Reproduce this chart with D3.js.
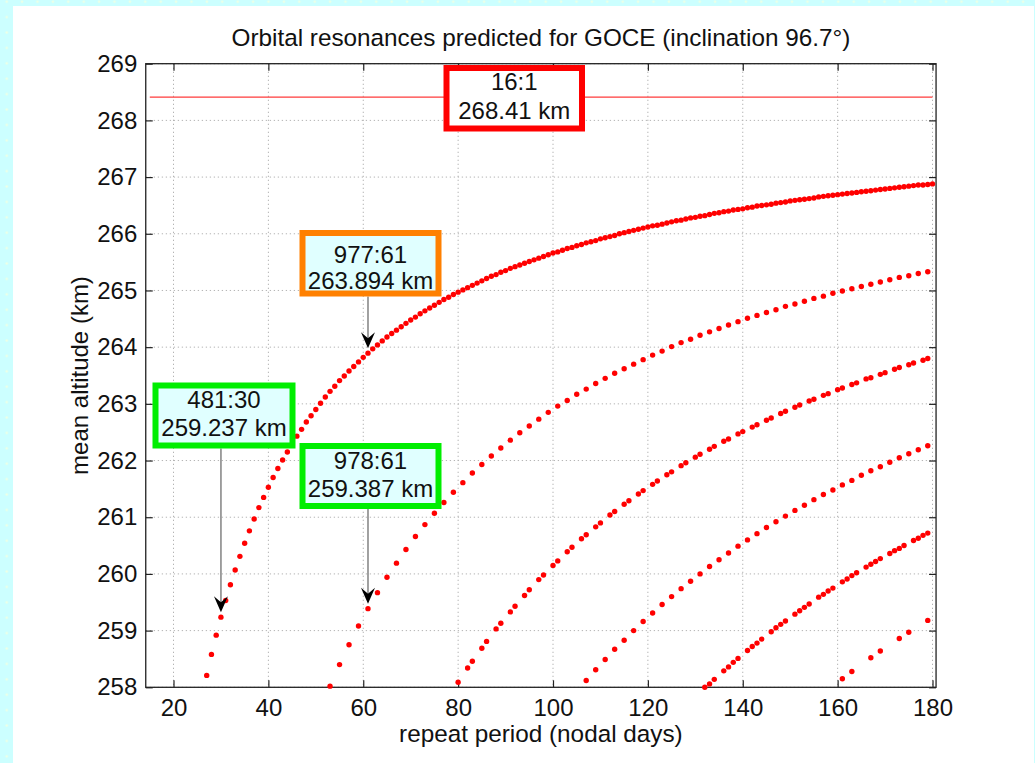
<!DOCTYPE html>
<html>
<head>
<meta charset="utf-8">
<script src="https://cdn.jsdelivr.net/npm/d3@7"></script>
<style>
  html, body { margin: 0; padding: 0; background: #ccffff; }
  svg { display: block; font-family: "Liberation Sans", Arial, Helvetica, sans-serif; }
</style>
</head>
<body>
<svg id="chart" width="1035" height="763"></svg>
<script>
// Resonant repeat orbits N:D (N revolutions in D nodal days), grouped by N - 16*D.
// Each entry: [repeat period in nodal days, mean altitude in km]
const resonanceK1 = [
  [27,258.21],[28,258.58],[29,258.92],[30,259.237],[31,259.53],[32,259.81],[33,260.07],[34,260.31],
  [35,260.54],[36,260.76],[37,260.97],[38,261.17],[39,261.35],[40,261.53],[41,261.70],[42,261.86],
  [43,262.01],[44,262.15],[45,262.29],[46,262.43],[47,262.55],[48,262.68],[49,262.79],[50,262.90],
  [51,263.01],[52,263.12],[53,263.22],[54,263.31],[55,263.41],[56,263.49],[57,263.58],[58,263.66],
  [59,263.74],[60,263.82],[61,263.894],[62,263.97],[63,264.04],[64,264.11],[65,264.18],[66,264.24],
  [67,264.30],[68,264.36],[69,264.42],[70,264.48],[71,264.53],[72,264.59],[73,264.64],[74,264.69],
  [75,264.74],[76,264.79],[77,264.84],[78,264.88],[79,264.93],[80,264.97],[81,265.01],[82,265.05],
  [83,265.09],[84,265.13],[85,265.17],[86,265.21],[87,265.25],[88,265.28],[89,265.32],[90,265.35],
  [91,265.39],[92,265.42],[93,265.45],[94,265.48],[95,265.51],[96,265.54],[97,265.57],[98,265.60],
  [99,265.63],[100,265.66],[101,265.68],[102,265.71],[103,265.74],[104,265.76],[105,265.79],[106,265.81],
  [107,265.84],[108,265.86],[109,265.88],[110,265.91],[111,265.93],[112,265.95],[113,265.97],[114,266.00],
  [115,266.02],[116,266.04],[117,266.06],[118,266.08],[119,266.10],[120,266.12],[121,266.14],[122,266.15],
  [123,266.17],[124,266.19],[125,266.21],[126,266.23],[127,266.24],[128,266.26],[129,266.28],[130,266.29],
  [131,266.31],[132,266.32],[133,266.34],[134,266.36],[135,266.37],[136,266.39],[137,266.40],[138,266.42],
  [139,266.43],[140,266.44],[141,266.46],[142,266.47],[143,266.49],[144,266.50],[145,266.51],[146,266.52],
  [147,266.54],[148,266.55],[149,266.56],[150,266.58],[151,266.59],[152,266.60],[153,266.61],[154,266.62],
  [155,266.63],[156,266.65],[157,266.66],[158,266.67],[159,266.68],[160,266.69],[161,266.70],[162,266.71],
  [163,266.72],[164,266.73],[165,266.74],[166,266.75],[167,266.76],[168,266.77],[169,266.78],[170,266.79],
  [171,266.80],[172,266.81],[173,266.82],[174,266.83],[175,266.84],[176,266.85],[177,266.86],[178,266.86],
  [179,266.87],[180,266.88]
];
const resonanceK2 = [
  [53,258.02],[55,258.40],[57,258.75],[59,259.08],[61,259.387],[63,259.67],[65,259.94],[67,260.19],
  [69,260.43],[71,260.66],[73,260.87],[75,261.07],[77,261.26],[79,261.44],[81,261.61],[83,261.78],
  [85,261.93],[87,262.08],[89,262.22],[91,262.36],[93,262.49],[95,262.61],[97,262.73],[99,262.85],
  [101,262.96],[103,263.06],[105,263.17],[107,263.26],[109,263.36],[111,263.45],[113,263.54],[115,263.62],
  [117,263.70],[119,263.78],[121,263.86],[123,263.93],[125,264.01],[127,264.08],[129,264.14],[131,264.21],
  [133,264.27],[135,264.33],[137,264.39],[139,264.45],[141,264.51],[143,264.56],[145,264.61],[147,264.66],
  [149,264.72],[151,264.76],[153,264.81],[155,264.86],[157,264.90],[159,264.95],[161,264.99],[163,265.03],
  [165,265.07],[167,265.11],[169,265.15],[171,265.19],[173,265.23],[175,265.26],[177,265.30],[179,265.33]
];
const resonanceK3 = [
  [80,258.09],[82,258.34],[83,258.46],[85,258.69],[86,258.81],[88,259.03],[89,259.13],[91,259.33],
  [92,259.43],[94,259.62],[95,259.72],[97,259.90],[98,259.98],[100,260.15],[101,260.23],[103,260.39],
  [104,260.47],[106,260.62],[107,260.69],[109,260.83],[110,260.90],[112,261.04],[113,261.10],[115,261.23],
  [116,261.29],[118,261.41],[119,261.47],[121,261.58],[122,261.64],[124,261.75],[125,261.80],[127,261.91],
  [128,261.96],[130,262.06],[131,262.11],[133,262.20],[134,262.25],[136,262.34],[137,262.38],[139,262.47],
  [140,262.51],[142,262.59],[143,262.63],[145,262.71],[146,262.75],[148,262.83],[149,262.87],[151,262.94],
  [152,262.98],[154,263.05],[155,263.08],[157,263.15],[158,263.18],[160,263.25],[161,263.28],[163,263.34],
  [164,263.37],[166,263.44],[167,263.46],[169,263.52],[170,263.55],[172,263.61],[173,263.64],[175,263.69],
  [176,263.72],[178,263.77],[179,263.80]
];
const resonanceK4 = [
  [107,258.12],[109,258.31],[111,258.49],[113,258.67],[115,258.83],[117,259.00],[119,259.16],[121,259.31],
  [123,259.46],[125,259.60],[127,259.74],[129,259.87],[131,260.00],[133,260.13],[135,260.25],[137,260.37],
  [139,260.49],[141,260.60],[143,260.71],[145,260.82],[147,260.92],[149,261.02],[151,261.12],[153,261.21],
  [155,261.31],[157,261.40],[159,261.48],[161,261.57],[163,261.65],[165,261.74],[167,261.82],[169,261.89],
  [171,261.97],[173,262.05],[175,262.12],[177,262.19],[179,262.26]
];
const resonanceK5 = [
  [132,258.00],[133,258.06],[134,258.14],[136,258.29],[137,258.36],[138,258.44],[139,258.51],[141,258.65],
  [142,258.72],[143,258.78],[144,258.85],[146,258.98],[147,259.05],[148,259.11],[149,259.17],[151,259.29],
  [152,259.35],[153,259.41],[154,259.47],[156,259.59],[157,259.64],[158,259.70],[159,259.75],[161,259.86],
  [162,259.91],[163,259.97],[164,260.02],[166,260.12],[167,260.17],[168,260.22],[169,260.27],[171,260.36],
  [172,260.41],[173,260.45],[174,260.50],[176,260.59],[177,260.63],[178,260.68],[179,260.72]
];
const resonanceK6 = [
  [161,258.15],[163,258.28],[167,258.52],[169,258.64],[173,258.86],[175,258.97],[179,259.18]
];

// Exact 16:1 resonance shown as a horizontal reference line
const exactRatio = "16:1";
const exactAltitude = 268.41;
const exactSpan = [15, 180];

// Highlighted resonances: label text, day, altitude
const highlightRatios = ["16:1", "977:61", "481:30", "978:61"];
const highlightDays = [null, 61, 30, 61];
const highlightAltitudes = [268.41, 263.894, 259.237, 259.387];

const xTicks = [20, 40, 60, 80, 100, 120, 140, 160, 180];
const yTicks = [258, 259, 260, 261, 262, 263, 264, 265, 266, 267, 268, 269];

const titleText = "Orbital resonances predicted for GOCE (inclination 96.7\u00B0)";
const xLabelText = "repeat period (nodal days)";
const yLabelText = "mean altitude (km)";

// ---- layout ----
const W = 1035, H = 763;
const plot = { left: 145.75, right: 936.06, top: 63.7, bottom: 687.3 };
const fontSize = 24;

// Annotation box geometry (outer box in px, text baselines) and border colours
const boxLayout = [
  { x0: 443.5, x1: 585, y0: 65, y1: 131.5, b1: 90, b2: 118.5, color: "#ff0000", fill: "#ffffff", arrow: false },
  { x0: 299.5, x1: 441.5, y0: 230, y1: 296.5, b1: 262.5, b2: 288.5, color: "#ff8000", fill: "#e0ffff", arrow: true },
  { x0: 152.5, x1: 295.5, y0: 382.5, y1: 448.5, b1: 407.5, b2: 436, color: "#00ee00", fill: "#e0ffff", arrow: true },
  { x0: 299.5, x1: 441.5, y0: 443, y1: 509, b1: 469, b2: 496.5, color: "#00ee00", fill: "#e0ffff", arrow: true }
];

const svg = d3.select("#chart");

// Figure backdrop: light cyan strip with faint dots, white figure area
const defs = svg.append("defs");
const pat = defs.append("pattern")
  .attr("id", "dots").attr("patternUnits", "userSpaceOnUse")
  .attr("width", 15.4).attr("height", 15.4).attr("x", -1).attr("y", -5.5);
pat.append("rect").attr("width", 15.4).attr("height", 15.4).attr("fill", "#ccffff");
pat.append("circle").attr("cx", 7.7).attr("cy", 7.2).attr("r", 1.3).attr("fill", "#eeffe6");
svg.append("rect").attr("width", W).attr("height", H).attr("fill", "url(#dots)");
svg.append("rect").attr("x", 13).attr("y", 6).attr("width", 1021).attr("height", H - 6).attr("fill", "#ffffff");

const x = d3.scaleLinear().domain([14.15, 180.75]).range([plot.left, plot.right]);
const y = d3.scaleLinear().domain([258, 269]).range([plot.bottom, plot.top]);

// Grid
const grid = svg.append("g").attr("stroke", "#b4b4b4").attr("stroke-width", 1)
  .attr("stroke-dasharray", "1.3,2.7").attr("fill", "none");
grid.selectAll("line.gx").data(xTicks).join("line").attr("class", "gx")
  .attr("x1", d => x(d)).attr("x2", d => x(d))
  .attr("y1", plot.top).attr("y2", plot.bottom);
grid.selectAll("line.gy").data(yTicks).join("line").attr("class", "gy")
  .attr("x1", plot.left).attr("x2", plot.right)
  .attr("y1", d => y(d)).attr("y2", d => y(d));

// Axes: box with inward ticks on all four sides, using d3 axes
const tickLen = 7;
const axisStyle = g => {
  g.select(".domain").remove();
  g.selectAll(".tick line").attr("stroke", "#222").attr("stroke-width", 1.2);
};
svg.append("g").attr("transform", `translate(0,${plot.bottom})`)
  .call(d3.axisBottom(x).tickValues(xTicks).tickSize(-tickLen).tickPadding(12))
  .call(axisStyle)
  .call(g => g.selectAll(".tick text").attr("font-size", fontSize).attr("fill", "#111")
    .attr("font-family", '"Liberation Sans", Arial, sans-serif'));
svg.append("g").attr("transform", `translate(0,${plot.top})`)
  .call(d3.axisTop(x).tickValues(xTicks).tickSize(-tickLen).tickFormat(""))
  .call(axisStyle);
svg.append("g").attr("transform", `translate(${plot.left},0)`)
  .call(d3.axisLeft(y).tickValues(yTicks).tickSize(-tickLen).tickPadding(8.5))
  .call(axisStyle)
  .call(g => g.selectAll(".tick text").attr("font-size", fontSize).attr("fill", "#111")
    .attr("font-family", '"Liberation Sans", Arial, sans-serif'));
svg.append("g").attr("transform", `translate(${plot.right},0)`)
  .call(d3.axisRight(y).tickValues(yTicks).tickSize(-tickLen).tickFormat(""))
  .call(axisStyle);
svg.append("rect")
  .attr("x", plot.left).attr("y", plot.top)
  .attr("width", plot.right - plot.left).attr("height", plot.bottom - plot.top)
  .attr("fill", "none").attr("stroke", "#222").attr("stroke-width", 1.3);

// 16:1 reference line
svg.append("line")
  .attr("x1", x(exactSpan[0])).attr("x2", x(exactSpan[1]))
  .attr("y1", y(exactAltitude)).attr("y2", y(exactAltitude))
  .attr("stroke", "#ff3b3b").attr("stroke-width", 1.3);

// Resonance points
const allSeries = [resonanceK1, resonanceK2, resonanceK3, resonanceK4, resonanceK5, resonanceK6];
svg.append("g").selectAll("g").data(allSeries).join("g")
  .selectAll("circle").data(d => d).join("circle")
  .attr("cx", d => x(d[0])).attr("cy", d => y(d[1]))
  .attr("r", 2.7).attr("fill", "#ff0000");

// Annotation arrows
const arrowG = svg.append("g");
highlightRatios.forEach((ratio, i) => {
  const b = boxLayout[i];
  if (!b.arrow) return;
  const ax = x(highlightDays[i]);
  const tipY = y(highlightAltitudes[i]) - 5;
  arrowG.append("line")
    .attr("x1", ax).attr("x2", ax).attr("y1", b.y1).attr("y2", tipY - 8)
    .attr("stroke", "#8a8a8a").attr("stroke-width", 1.6);
  arrowG.append("path")
    .attr("d", `M${ax},${tipY} L${ax - 7},${tipY - 16} L${ax},${tipY - 10} L${ax + 7},${tipY - 16} Z`)
    .attr("fill", "#000");
});

// Annotation boxes
const sw = 6;
const boxG = svg.append("g");
highlightRatios.forEach((ratio, i) => {
  const b = boxLayout[i];
  boxG.append("rect")
    .attr("x", b.x0 + sw / 2).attr("y", b.y0 + sw / 2)
    .attr("width", b.x1 - b.x0 - sw).attr("height", b.y1 - b.y0 - sw)
    .attr("fill", b.fill).attr("stroke", b.color).attr("stroke-width", sw);
  const cx = (b.x0 + b.x1) / 2;
  boxG.append("text").attr("x", cx).attr("y", b.b1).attr("text-anchor", "middle")
    .attr("font-size", fontSize).attr("fill", "#111").text(ratio);
  boxG.append("text").attr("x", cx).attr("y", b.b2).attr("text-anchor", "middle")
    .attr("font-size", fontSize).attr("fill", "#111")
    .text(highlightAltitudes[i].toString() + " km");
});

// Titles
const midX = (plot.left + plot.right) / 2;
svg.append("text").attr("x", midX).attr("y", 46).attr("text-anchor", "middle")
  .attr("font-size", 24.3).attr("fill", "#111").text(titleText);
svg.append("text").attr("x", midX).attr("y", 742).attr("text-anchor", "middle")
  .attr("font-size", 24.3).attr("fill", "#111").text(xLabelText);
svg.append("text")
  .attr("transform", `translate(88,${(plot.top + plot.bottom) / 2}) rotate(-90)`)
  .attr("text-anchor", "middle")
  .attr("font-size", fontSize).attr("fill", "#111").text(yLabelText);
</script>
</body>
</html>
